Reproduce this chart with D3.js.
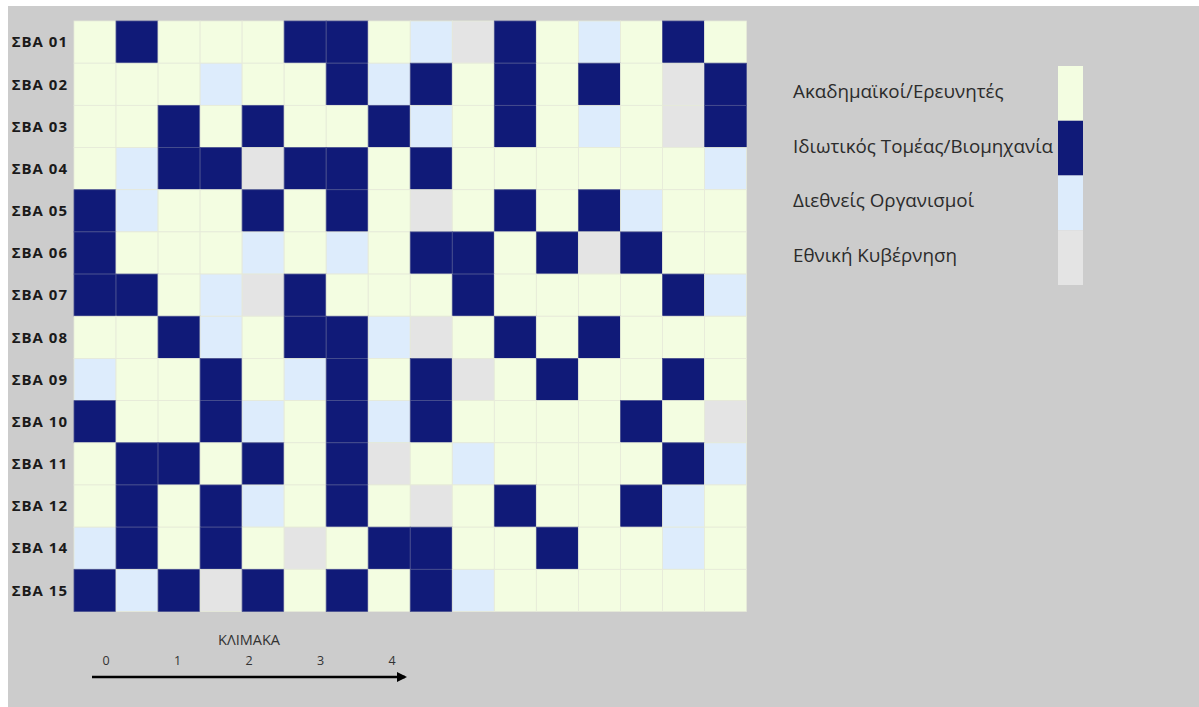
<!DOCTYPE html>
<html>
<head>
<meta charset="utf-8">
<script src="https://cdn.jsdelivr.net/npm/d3@7"></script>
<style>
  html, body { margin: 0; padding: 0; background: #ffffff; }
  svg { display: block; }
</style>
</head>
<body>
<svg id="chart" width="1199" height="707"></svg>
<script>
// Stakeholder groups shown in the legend, in order
const groups = [
  "Ακαδημαϊκοί/Ερευνητές",
  "Ιδιωτικός Τομέας/Βιομηχανία",
  "Διεθνείς Οργανισμοί",
  "Εθνική Κυβέρνηση"
];
const groupColors = ["#f3fde1", "#101a78", "#ddecfc", "#e4e4e4"];

// Row labels
const rows = ["ΣΒΑ 01", "ΣΒΑ 02", "ΣΒΑ 03", "ΣΒΑ 04", "ΣΒΑ 05", "ΣΒΑ 06", "ΣΒΑ 07",
              "ΣΒΑ 08", "ΣΒΑ 09", "ΣΒΑ 10", "ΣΒΑ 11", "ΣΒΑ 12", "ΣΒΑ 14", "ΣΒΑ 15"];
const columns = d3.range(1, 17).map(String);

// Group index per cell: 0 = academia, 1 = industry, 2 = international, 3 = government
const sba01 = [0,1,0,0,0,1,1,0,2,3,1,0,2,0,1,0];
const sba02 = [0,0,0,2,0,0,1,2,1,0,1,0,1,0,3,1];
const sba03 = [0,0,1,0,1,0,0,1,2,0,1,0,2,0,3,1];
const sba04 = [0,2,1,1,3,1,1,0,1,0,0,0,0,0,0,2];
const sba05 = [1,2,0,0,1,0,1,0,3,0,1,0,1,2,0,0];
const sba06 = [1,0,0,0,2,0,2,0,1,1,0,1,3,1,0,0];
const sba07 = [1,1,0,2,3,1,0,0,0,1,0,0,0,0,1,2];
const sba08 = [0,0,1,2,0,1,1,2,3,0,1,0,1,0,0,0];
const sba09 = [2,0,0,1,0,2,1,0,1,3,0,1,0,0,1,0];
const sba10 = [1,0,0,1,2,0,1,2,1,0,0,0,0,1,0,3];
const sba11 = [0,1,1,0,1,0,1,3,0,2,0,0,0,0,1,2];
const sba12 = [0,1,0,1,2,0,1,0,3,0,1,0,0,1,2,0];
const sba14 = [2,1,0,1,0,3,0,1,1,0,0,1,0,0,2,0];
const sba15 = [1,2,1,3,1,0,1,0,1,2,0,0,0,0,0,0];
const matrix = [sba01, sba02, sba03, sba04, sba05, sba06, sba07,
                sba08, sba09, sba10, sba11, sba12, sba14, sba15];

// Scale ticks below the grid
const scaleTicks = [0, 1, 2, 3, 4];
const scaleTitle = "ΚΛΙΜΑΚΑ";

const svg = d3.select("#chart");
const font = "'Open Sans', 'Noto Sans', sans-serif";

// Grey panel
svg.append("rect").attr("x", 8).attr("y", 6).attr("width", 1191).attr("height", 701)
  .attr("fill", "#cccccc");

const x = d3.scaleBand().domain(columns).range([74, 746.5]).padding(0);
const y = d3.scaleBand().domain(rows).range([21, 611.5]).padding(0);
const color = d3.scaleOrdinal().domain(d3.range(groups.length)).range(groupColors);

const cells = [];
matrix.forEach((vals, i) => vals.forEach((v, j) => cells.push({ row: rows[i], col: columns[j], v })));

svg.append("g").selectAll("rect").data(cells).join("rect")
  .attr("x", d => x(d.col))
  .attr("y", d => y(d.row))
  .attr("width", x.bandwidth())
  .attr("height", y.bandwidth())
  .attr("fill", d => color(d.v))
  .attr("stroke", d => d.v === 1 ? "#4a5190" : "#e6ead9")
  .attr("stroke-width", 0.8);

// Row labels
svg.append("g").selectAll("text").data(rows).join("text")
  .attr("x", 68)
  .attr("y", d => y(d) + y.bandwidth() / 2)
  .attr("dy", "0.35em")
  .attr("text-anchor", "end")
  .attr("font-family", font)
  .attr("font-weight", "bold")
  .attr("font-size", 15)
  .attr("letter-spacing", 1.0)
  .attr("fill", "#1a1a1a")
  .text(d => d);

// Legend
const legendY = d3.scaleBand().domain(groups).range([66, 285]);
const legend = svg.append("g");
legend.selectAll("rect").data(groups).join("rect")
  .attr("x", 1058)
  .attr("y", d => legendY(d))
  .attr("width", 25)
  .attr("height", legendY.bandwidth())
  .attr("fill", (d, i) => groupColors[i]);
legend.selectAll("text").data(groups).join("text")
  .attr("x", 793)
  .attr("y", d => legendY(d) + legendY.bandwidth() / 2 - 2)
  .attr("dy", "0.35em")
  .attr("font-family", font)
  .attr("font-size", 18.8)
  .attr("fill", "#2b2b2b")
  .text(d => d);

// Scale arrow
const s = d3.scaleLinear().domain([0, 4]).range([106, 392]);
const scaleG = svg.append("g");
svg.append("defs").append("marker")
  .attr("id", "arrowhead")
  .attr("viewBox", "0 0 10 10")
  .attr("refX", 8).attr("refY", 5)
  .attr("markerWidth", 4).attr("markerHeight", 4)
  .attr("orient", "auto")
  .append("path").attr("d", "M0,0 L10,5 L0,10 Z").attr("fill", "#000");
scaleG.append("line")
  .attr("x1", 92).attr("x2", 405)
  .attr("y1", 677).attr("y2", 677)
  .attr("stroke", "#000").attr("stroke-width", 2.5)
  .attr("marker-end", "url(#arrowhead)");
scaleG.selectAll("text.tick").data(scaleTicks).join("text")
  .attr("class", "tick")
  .attr("x", d => s(d))
  .attr("y", 665)
  .attr("text-anchor", "middle")
  .attr("font-family", font)
  .attr("font-size", 12.5)
  .attr("fill", "#333")
  .text(d => d);
scaleG.append("text")
  .attr("x", 249).attr("y", 645)
  .attr("text-anchor", "middle")
  .attr("font-family", font)
  .attr("font-size", 14.5)
  .attr("fill", "#333")
  .text(scaleTitle);
</script>
</body>
</html>
